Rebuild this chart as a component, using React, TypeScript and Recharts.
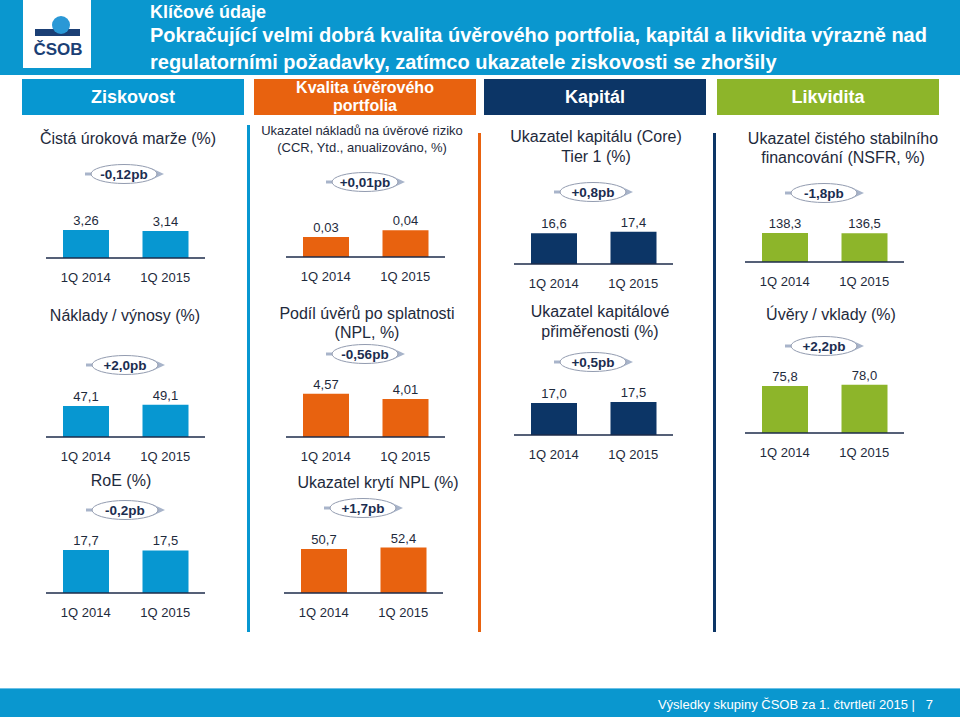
import React from 'react';
import { BarChart, Bar, XAxis, YAxis, LabelList } from 'recharts';

const quarters = ['1Q 2014', '1Q 2015'];

// Ziskovost
const nimValues = [3.26, 3.14];
const costIncomeValues = [47.1, 49.1];
const roeValues = [17.7, 17.5];
// Kvalita úvěrového portfolia
const ccrValues = [0.03, 0.04];
const nplValues = [4.57, 4.01];
const nplCoverageValues = [50.7, 52.4];
// Kapitál
const tier1Values = [16.6, 17.4];
const carValues = [17.0, 17.5];
// Likvidita
const nsfrValues = [138.3, 136.5];
const loanDepositValues = [75.8, 78.0];

const FONT = '"Liberation Sans", Arial, Helvetica, sans-serif';
const INK = '#1e2a3c';
const BLUE = '#0797d1';
const ORANGE = '#e8620f';
const NAVY = '#0c3566';
const GREEN = '#8db52a';

const PLOT_H = 60;
const TOP_M = 22;

function MiniBars({ values, color, max, decimals, left, baseline }: any) {
  const data = quarters.map((q, i) => ({ q, v: values[i] }));
  const fmt = (v: any) => Number(v).toFixed(decimals).replace('.', ',');
  return (
    <div style={{ position: 'absolute', left, top: baseline - PLOT_H - TOP_M }}>
      <BarChart width={159} height={TOP_M + PLOT_H + 30} data={data}
        margin={{ top: TOP_M, right: 0, bottom: 0, left: 0 }}>
        <XAxis dataKey="q" height={30} interval={0} tickLine={false} tickSize={0} tickMargin={15}
          axisLine={{ stroke: '#1c2b4a', strokeWidth: 1.5 }}
          tick={{ fill: INK, fontSize: 13, fontFamily: FONT }} />
        <YAxis hide domain={[0, max]} />
        <Bar dataKey="v" fill={color} barSize={46} isAnimationActive={false}>
          <LabelList dataKey="v" position="top" offset={5} formatter={fmt}
            fill={INK} fontSize={13} fontFamily={FONT} />
        </Bar>
      </BarChart>
    </div>
  );
}

function Caption({ x, y, text, size = 16 }: any) {
  return (
    <div style={{
      position: 'absolute', left: x - 160, top: y - size * 0.6, width: 320,
      textAlign: 'center', fontFamily: FONT, fontSize: size, lineHeight: `${size * 1.2}px`,
      color: INK, whiteSpace: 'nowrap',
    }}>{text}</div>
  );
}

function Badge({ x, y, text }: any) {
  return (
    <svg style={{ position: 'absolute', left: x - 40, top: y - 11 }} width={82} height={22}>
      <line x1={1} y1={11} x2={10} y2={11} stroke="#a8b4ca" strokeWidth={3} />
      <polygon points="67,5 80,11 67,17" fill="#a8b4ca" />
      <ellipse cx={40} cy={11} rx={33} ry={9.5} fill="#fff" stroke="#939cb0" strokeWidth={1} />
      <text x={40} y={11} dy="0.36em" textAnchor="middle" fontFamily={FONT} fontWeight="bold"
        fontSize={13.5} fill="#1b2d50">{text}</text>
    </svg>
  );
}

function SectionHeader({ left, color, lines, size = 18 }: any) {
  return (
    <div style={{
      position: 'absolute', left, top: 79, width: 222, height: 36, background: color,
      color: '#fff', fontFamily: FONT, fontWeight: 'bold', fontSize: size,
      display: 'flex', flexDirection: 'column', justifyContent: 'center', alignItems: 'center',
      lineHeight: lines.length > 1 ? '18px' : '20px',
    }}>
      {lines.map((l: string) => <div key={l}>{l}</div>)}
    </div>
  );
}

function VLine({ x, y1, y2, color }: any) {
  return <div style={{ position: 'absolute', left: x - 1, top: y1, width: 2.5, height: y2 - y1, background: color }} />;
}

export default function App() {
  return (
    <div style={{ position: 'absolute', left: 0, top: 0, width: 960, height: 717, background: '#fff', overflow: 'hidden', fontFamily: FONT }}>
      {/* title band */}
      <div style={{ position: 'absolute', left: 0, top: 0, width: 960, height: 75, background: '#0a97cf' }} />
      <svg style={{ position: 'absolute', left: 23, top: 0 }} width={68} height={68}>
        <rect x={0} y={0} width={68} height={68} fill="#fff" />
        <rect x={12} y={29} width={45} height={7} fill="#1b3f75" />
        <circle cx={38} cy={25} r={9} fill="#2a98d6" />
        <text x={35} y={55} textAnchor="middle" fontFamily={FONT} fontWeight="bold" fontSize={17} fill="#1b3f75">ČSOB</text>
      </svg>
      <div style={{ position: 'absolute', left: 150, top: 1, color: '#fff', fontWeight: 'bold', fontSize: 18, lineHeight: '22px' }}>Klíčové údaje</div>
      <div style={{ position: 'absolute', left: 150, top: 23, color: '#fff', fontWeight: 'bold', fontSize: 20, lineHeight: '24px', whiteSpace: 'nowrap' }}>Pokračující velmi dobrá kvalita úvěrového portfolia, kapitál a likvidita výrazně nad</div>
      <div style={{ position: 'absolute', left: 150, top: 50, color: '#fff', fontWeight: 'bold', fontSize: 20, lineHeight: '24px', whiteSpace: 'nowrap' }}>regulatorními požadavky, zatímco ukazatele ziskovosti se zhoršily</div>

      <SectionHeader left={22} color={BLUE} lines={['Ziskovost']} />
      <SectionHeader left={254} color={ORANGE} lines={['Kvalita úvěrového', 'portfolia']} size={16} />
      <SectionHeader left={484} color={NAVY} lines={['Kapitál']} />
      <SectionHeader left={717} color={GREEN} lines={['Likvidita']} />

      <VLine x={248} y1={125} y2={632} color={BLUE} />
      <VLine x={479} y1={133} y2={632} color={ORANGE} />
      <VLine x={714} y1={133} y2={632} color={NAVY} />

      {/* Ziskovost */}
      <Caption x={128} y={139} text="Čistá úroková marže (%)" />
      <Badge x={124} y={174} text="-0,12pb" />
      <MiniBars values={nimValues} color={BLUE} max={7.0} decimals={2} left={46} baseline={258} />

      <Caption x={125} y={316} text="Náklady / výnosy (%)" />
      <Badge x={125} y={365} text="+2,0pb" />
      <MiniBars values={costIncomeValues} color={BLUE} max={91} decimals={1} left={46} baseline={437} />

      <Caption x={121} y={481} text="RoE (%)" />
      <Badge x={125} y={510} text="-0,2pb" />
      <MiniBars values={roeValues} color={BLUE} max={24.7} decimals={1} left={46} baseline={593} />

      {/* Kvalita úvěrového portfolia */}
      <Caption x={362} y={131} text="Ukazatel nákladů na úvěrové riziko" size={13} />
      <Caption x={362} y={148} text="(CCR, Ytd., anualizováno, %)" size={13} />
      <Badge x={365} y={182} text="+0,01pb" />
      <MiniBars values={ccrValues} color={ORANGE} max={0.09} decimals={2} left={286} baseline={257} />

      <Caption x={367} y={314} text="Podíl úvěrů po splatnosti" />
      <Caption x={367} y={333} text="(NPL, %)" />
      <Badge x={365} y={354} text="-0,56pb" />
      <MiniBars values={nplValues} color={ORANGE} max={6.33} decimals={2} left={286} baseline={437} />

      <Caption x={378} y={483} text="Ukazatel krytí NPL (%)" />
      <Badge x={363} y={508} text="+1,7pb" />
      <MiniBars values={nplCoverageValues} color={ORANGE} max={69.2} decimals={1} left={284} baseline={593} />

      {/* Kapitál */}
      <Caption x={596} y={137} text="Ukazatel kapitálu (Core)" />
      <Caption x={596} y={157} text="Tier 1 (%)" />
      <Badge x={593} y={192} text="+0,8pb" />
      <MiniBars values={tier1Values} color={NAVY} max={32.3} decimals={1} left={514} baseline={264} />

      <Caption x={600} y={312} text="Ukazatel kapitálové" />
      <Caption x={600} y={332} text="přiměřenosti (%)" />
      <Badge x={593} y={362} text="+0,5pb" />
      <MiniBars values={carValues} color={NAVY} max={31.9} decimals={1} left={514} baseline={435} />

      {/* Likvidita */}
      <Caption x={843} y={139} text="Ukazatel čistého stabilního" />
      <Caption x={843} y={158} text="financování (NSFR, %)" />
      <Badge x={824} y={193} text="-1,8pb" />
      <MiniBars values={nsfrValues} color={GREEN} max={286} decimals={1} left={745} baseline={262} />

      <Caption x={831} y={315} text="Úvěry / vklady (%)" />
      <Badge x={824} y={346} text="+2,2pb" />
      <MiniBars values={loanDepositValues} color={GREEN} max={96.8} decimals={1} left={745} baseline={433} />

      {/* footer */}
      <div style={{ position: 'absolute', left: 0, top: 688, width: 960, height: 29, background: '#0a97cf' }} />
      <div style={{ position: 'absolute', left: 0, top: 688, width: 960, height: 1, background: '#6cc0e6' }} />
      <div style={{ position: 'absolute', right: 27, top: 696, color: '#fff', fontSize: 13, lineHeight: '18px', whiteSpace: 'pre' }}>Výsledky skupiny ČSOB za 1. čtvrtletí 2015 |   7</div>
    </div>
  );
}
